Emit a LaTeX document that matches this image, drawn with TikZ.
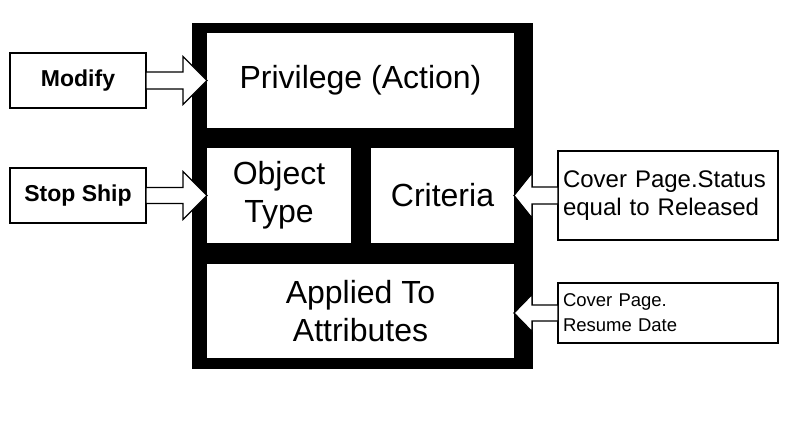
\documentclass[tikz,border=0pt]{standalone}
\usepackage{fontspec}
\setmainfont{Liberation Sans}
\usetikzlibrary{calc}
\tikzset{
  inbox/.style={fill=white, inner sep=0pt, outer sep=0pt, align=center, font=\fontsize{32}{38}\selectfont},
  srcbox/.style={draw=black, line width=1.2pt, fill=white, inner sep=0pt, outer sep=0pt, align=center, font=\fontsize{23}{27}\selectfont\bfseries},
  notebox/.style={draw=black, line width=1.2pt, fill=white, inner xsep=5pt, inner ysep=0pt, outer sep=0pt, align=left, anchor=west, text width=210pt},
  blockarrow/.style={draw=black, line width=1.2pt, fill=white, line join=miter},
}
\begin{document}
\begin{tikzpicture}[x=1pt,y=-1pt]
\useasboundingbox (0,0) rectangle (797,426);
% frame
\node[fill=black, inner sep=0pt, outer sep=0pt, minimum width=341pt, minimum height=346pt] (frame) at (362.5,196) {};
% inner boxes
\node[inbox, minimum width=307pt, minimum height=95pt] (priv) at (360.5,80.5) {Privilege (Action)};
\node[inbox, minimum width=144pt, minimum height=95pt] (objtype) at (279,195.5) {Object\\Type};
\node[inbox, minimum width=143pt, minimum height=95pt] (criteria) at (442.5,195.5) {Criteria};
\node[inbox, minimum width=307pt, minimum height=94pt] (applied) at (360.5,311) {Applied To\\Attributes};
% source boxes
\node[srcbox, minimum width=136pt, minimum height=55pt] (modify) at (78,80.5) {Modify};
\node[srcbox, minimum width=136pt, minimum height=55pt] (stopship) at (78,195.5) {Stop Ship};
\node[notebox, minimum height=89pt, font=\fontsize{24}{28}\selectfont] (crit) at (558,195.5) {Cover Page.Status\\equal to Released};
\node[notebox, minimum height=60pt, font=\fontsize{18.5}{25}\selectfont] (resume) at (558,313) {Cover Page.\\Resume Date};
% block arrows (left side)
\coordinate (t1) at (priv.west |- modify.east);
\draw[blockarrow] ($(modify.east)+(0,-8.5)$) -- ($(t1)+(-24,-8.5)$) -- ($(t1)+(-24,-24)$) -- (t1)
  -- ($(t1)+(-24,24)$) -- ($(t1)+(-24,8.5)$) -- ($(modify.east)+(0,8.5)$) -- cycle;
\coordinate (t2) at (objtype.west |- stopship.east);
\draw[blockarrow] ($(stopship.east)+(0,-8)$) -- ($(t2)+(-24,-8)$) -- ($(t2)+(-24,-24)$) -- (t2)
  -- ($(t2)+(-24,24)$) -- ($(t2)+(-24,8)$) -- ($(stopship.east)+(0,8)$) -- cycle;
% block arrows (right side)
\coordinate (t3) at (criteria.east |- crit.west);
\draw[blockarrow] ($(crit.west)+(0,-8.5)$) -- ($(t3)+(18,-8.5)$) -- ($(t3)+(18,-22.5)$) -- (t3)
  -- ($(t3)+(18,22.5)$) -- ($(t3)+(18,8.5)$) -- ($(crit.west)+(0,8.5)$) -- cycle;
\coordinate (t4) at (applied.east |- resume.west);
\draw[blockarrow] ($(resume.west)+(0,-8)$) -- ($(t4)+(18,-8)$) -- ($(t4)+(18,-18.5)$) -- (t4)
  -- ($(t4)+(18,18.5)$) -- ($(t4)+(18,8)$) -- ($(resume.west)+(0,8)$) -- cycle;
\end{tikzpicture}
\end{document}
